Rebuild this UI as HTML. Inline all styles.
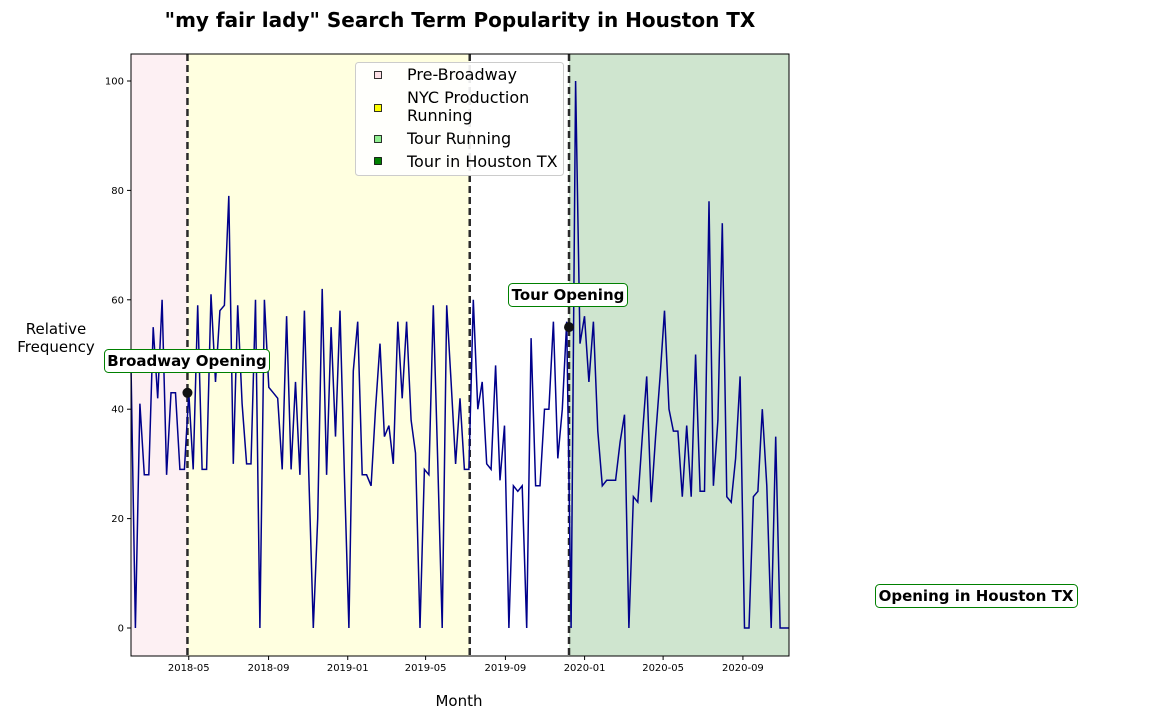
<!DOCTYPE html>
<html><head><meta charset="utf-8"><style>
body{margin:0;background:#fff;}
svg text{font-family:"DejaVu Sans","Liberation Sans",sans-serif;}
</style></head><body>
<svg id="chart" width="1152" height="720" xmlns="http://www.w3.org/2000/svg">
<text x="460" y="27" text-anchor="middle" font-size="20" font-weight="bold">"my fair lady" Search Term Popularity in Houston TX</text>
<g id="bg"></g>
<g id="plot"></g>
<rect x="131" y="54" width="658" height="602" fill="none" stroke="#000" stroke-width="1"/>
<g id="axes"></g>
<text x="56" y="334" text-anchor="middle" font-size="15"><tspan x="56">Relative</tspan><tspan x="56" dy="18">Frequency</tspan></text>
<text x="459" y="706" text-anchor="middle" font-size="15">Month</text>
<g>
<rect x="355.5" y="62.5" width="208" height="113" rx="3" fill="#fff" fill-opacity="0.9" stroke="#ccc"/>
<g><rect x="374.5" y="71.5" width="7" height="7" fill="#fde0e6" stroke="#000" stroke-width="0.8"/><text x="407" y="80" font-size="16">Pre-Broadway</text></g>
<g><rect x="374.5" y="104.5" width="7" height="7" fill="#ffff00" stroke="#000" stroke-width="0.8"/><text x="407" y="103" font-size="16">NYC Production</text><text x="407" y="121" font-size="16">Running</text></g>
<g><rect x="374.5" y="135.5" width="7" height="7" fill="#90ee90" stroke="#000" stroke-width="0.8"/><text x="407" y="144" font-size="16">Tour Running</text></g>
<g><rect x="374.5" y="157.5" width="7" height="7" fill="#008000" stroke="#000" stroke-width="0.8"/><text x="407" y="167" font-size="16">Tour in Houston TX</text></g>
</g>
<g><rect x="104.5" y="349.5" width="165" height="23" rx="4" fill="#fff" stroke="green"/><text x="187" y="366" text-anchor="middle" font-size="15" font-weight="bold">Broadway Opening</text></g>
<g><rect x="508.5" y="283.5" width="119" height="23" rx="4" fill="#fff" stroke="green"/><text x="568" y="300" text-anchor="middle" font-size="15" font-weight="bold">Tour Opening</text></g>
<g><rect x="875.5" y="584.5" width="202" height="23" rx="4" fill="#fff" stroke="green"/><text x="976" y="601" text-anchor="middle" font-size="15" font-weight="bold">Opening in Houston TX</text></g>
</svg>
<script>
const values=[48,0,41,28,28,55,42,60,28,43,43,29,29,43,29,59,29,29,61,45,58,59,79,30,59,41,30,30,60,0,60,44,43,42,29,57,29,45,28,58,28,0,20,62,28,55,35,58,28,0,47,56,28,28,26,40,52,35,37,30,56,42,56,38,32,0,29,28,59,30,0,59,45,30,42,29,29,60,40,45,30,29,48,27,37,0,26,25,26,0,53,26,26,40,40,56,31,40,56,0,100,52,57,45,56,36,26,27,27,27,34,39,0,24,23,35,46,23,35,46,58,40,36,36,24,37,24,50,25,25,78,26,38,74,24,23,31,46,0,0,24,25,40,26,0,35,0,0,0];
const yTicks=[0,20,40,60,80,100];
const xTickLabels=["2018-05","2018-09","2019-01","2019-05","2019-09","2020-01","2020-05","2020-09"];
const eventDates=["2018-04-29","2019-07-08","2019-12-08"];
const eventValues=[43,55];
const phaseBounds=["2018-02-01","2018-04-29","2019-07-08","2019-12-08","2020-11-11"];
const phaseColors=["#fdf0f3","#ffffe0","#ffffff","#cfe5cf"];
const L=131,R=789,T=54,B=656;
const d0=new Date("2018-02-01").getTime(),d1=new Date("2020-11-11").getTime();
const xd=s=>L+(new Date(s).getTime()-d0)/(d1-d0)*(R-L);
const xi=i=>L+i*(R-L)/(values.length-1);
const y=v=>628-v*5.47;
const NS="http://www.w3.org/2000/svg";
function mk(p,t,a){const e=document.createElementNS(NS,t);for(const k in a)e.setAttribute(k,a[k]);p.appendChild(e);return e;}
const bg=document.getElementById('bg'),plot=document.getElementById('plot'),axes=document.getElementById('axes');
for(let i=0;i<phaseColors.length;i++){
 const r=mk(bg,'rect',{x:xd(phaseBounds[i]),y:T,width:xd(phaseBounds[i+1])-xd(phaseBounds[i]),height:B-T,fill:phaseColors[i]});
 
 
}
eventDates.forEach(d=>{
 const l=mk(plot,'line',{x1:xd(d),x2:xd(d),y1:T,y2:B,stroke:'#2a2a2a','stroke-width':2.5,'stroke-dasharray':'7,4'});
 
 
});
const pl=mk(plot,'polyline',{points:values.map((v,i)=>xi(i).toFixed(1)+','+y(v).toFixed(1)).join(' '),fill:'none',stroke:'#00008b','stroke-width':1.5});


eventValues.forEach((v,i)=>{
 const c=mk(plot,'circle',{cx:xd(eventDates[i===0?0:2]),cy:y(v),r:5,fill:'#111'});
 
 
});
yTicks.forEach(v=>{
 const t=mk(axes,'line',{x1:L-4,x2:L,y1:y(v),y2:y(v),stroke:'#000'});
 
 
 const tx=mk(axes,'text',{x:L-7,y:y(v)+3.5,'text-anchor':'end','font-size':10});
 tx.textContent=v;
 
 
});
xTickLabels.forEach(s=>{
 const x=xd(s+"-01");
 const t=mk(axes,'line',{x1:x,x2:x,y1:B,y2:B+4,stroke:'#000'});
 
 
 const tx=mk(axes,'text',{x:x,y:B+15,'text-anchor':'middle','font-size':10});
 tx.textContent=s;
 
 
});
</script>
</body></html>
